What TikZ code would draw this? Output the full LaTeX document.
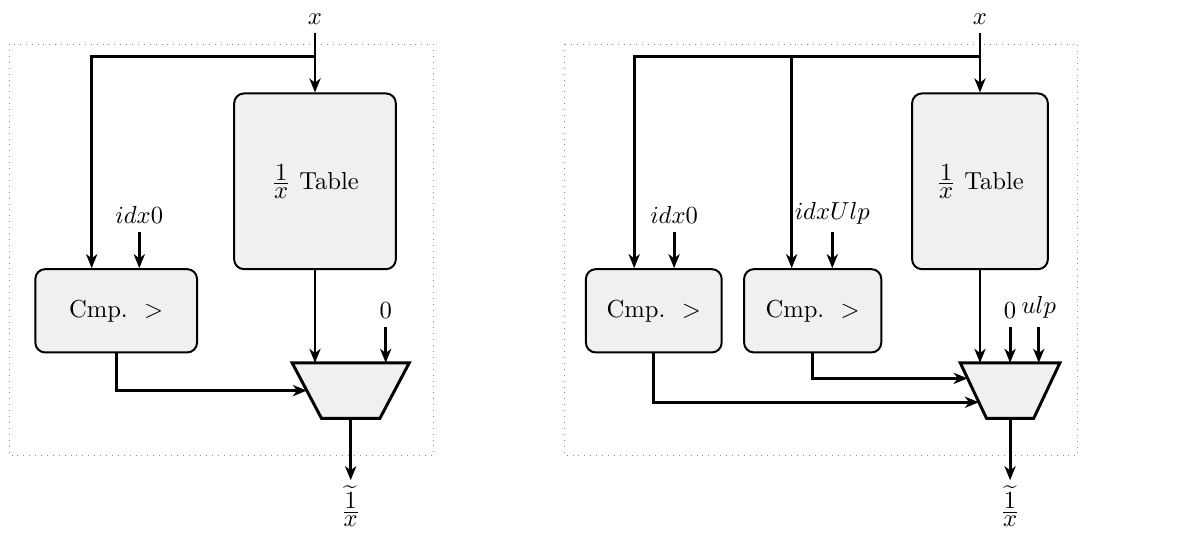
\documentclass[tikz,border=0pt]{standalone}
\usepackage{amsmath,amssymb}
\usepackage{tikz}
\usepackage{xcolor}
\usetikzlibrary{arrows.meta,positioning,calc}
\definecolor{ink}{HTML}{000000}
\definecolor{blockfill}{HTML}{F0F0F0}
\definecolor{framegray}{HTML}{8C8C8C}
\newcommand{\invx}{\frac{\textstyle 1}{\textstyle x}}
\tikzset{
  block/.style={draw=ink,fill=blockfill,line width=0.8pt,rounded corners=4pt,
                align=center,inner sep=3pt},
  muxbody/.style={draw=ink,fill=blockfill,line width=1.2pt,line join=miter},
  muxnode/.style={inner sep=0pt,minimum height=0.78cm},
  sig/.style={draw=ink,line width=1.2pt},
  sigarr/.style={sig,-{Stealth[length=2mm,width=1.6mm,inset=0.6mm]}},
  frame/.style={draw=framegray,line width=0.4pt,dotted},
  lbl/.style={inner sep=3.3pt}
}

\begin{document}
\begin{tikzpicture}[x=1cm,y=1cm]
    \path[use as bounding box] (0,0) rectangle (16.886,-7.657);
    \draw[frame] (0.14,-0.63) rectangle (6.19,-6.51);
    \draw[frame] (8.07,-0.63) rectangle (15.40,-6.51);

    % left unit
    \node[block,minimum width=2.31cm,minimum height=2.51cm] (tabA) at (4.50,-2.59)
      {$\invx$ Table};
    \node[block,minimum width=2.31cm,minimum height=1.19cm] (cmpA) at (1.66,-4.44)
      {Cmp.~~$>$};
    \node[muxnode,minimum width=1.66cm] (muxA) at (5.01,-5.58) {};
    \coordinate (muxA-bl) at ($(muxA.south west)+(0.42,0)$);
    \coordinate (muxA-br) at ($(muxA.south east)+(-0.42,0)$);
    \draw[muxbody] (muxA.north west) -- (muxA.north east) -- (muxA-br)
      -- (muxA-bl) -- cycle;
    \coordinate (muxA-s) at ($(muxA.north west)!0.5!(muxA-bl)$);
    \coordinate (cmpA-in1) at ($(cmpA.north)+(-0.35,0)$);
    \coordinate (cmpA-in2) at ($(cmpA.north)+(0.33,0)$);
    \coordinate (brA) at (4.50,-0.81);

    \node[lbl,anchor=south] (xA) at (4.50,-0.47) {$x$};
    \node[lbl,anchor=south] (idxA) at ($(cmpA-in2)+(0,0.51)$) {$idx0$};
    \node[lbl,anchor=south] (zeroA) at (5.51,-4.67) {$0$};
    \node[inner sep=2pt,anchor=north] (outA) at (5.01,-6.86)
      {$\widetilde{\invx}$};

    \draw[sigarr] (xA) -- (tabA);
    \draw[sigarr] (brA) -| (cmpA-in1);
    \draw[sigarr] (idxA) -- (cmpA-in2);
    \draw[sigarr] (tabA.south) -- (tabA.south |- muxA.north);
    \draw[sigarr] (zeroA) -- (zeroA |- muxA.north);
    \draw[sigarr] (cmpA.south) |- (muxA-s);
    \draw[sigarr] (muxA.south) -- (outA);

    % right unit
    \node[block,minimum width=1.94cm,minimum height=2.51cm] (tabB) at (14.00,-2.59)
      {$\invx$ Table};
    \node[block,minimum width=1.94cm,minimum height=1.19cm] (cmpB1) at (9.34,-4.44)
      {Cmp.~~$>$};
    \node[block,minimum width=1.96cm,minimum height=1.19cm] (cmpB2) at (11.61,-4.44)
      {Cmp.~~$>$};
    \node[muxnode,minimum width=1.41cm] (muxB) at (14.43,-5.58) {};
    \coordinate (muxB-bl) at ($(muxB.south west)+(0.375,0)$);
    \coordinate (muxB-br) at ($(muxB.south east)+(-0.375,0)$);
    \draw[muxbody] (muxB.north west) -- (muxB.north east) -- (muxB-br)
      -- (muxB-bl) -- cycle;
    \coordinate (muxB-s1) at ($(muxB.north west)!0.71!(muxB-bl)$);
    \coordinate (muxB-s2) at ($(muxB.north west)!0.28!(muxB-bl)$);
    \coordinate (cmpB1-in1) at ($(cmpB1.north)+(-0.28,0)$);
    \coordinate (cmpB1-in2) at ($(cmpB1.north)+(0.29,0)$);
    \coordinate (cmpB2-in1) at ($(cmpB2.north)+(-0.30,0)$);
    \coordinate (cmpB2-in2) at ($(cmpB2.north)+(0.28,0)$);
    \coordinate (brB) at (14.00,-0.81);

    \node[lbl,anchor=south] (xB) at (14.00,-0.47) {$x$};
    \node[lbl,anchor=south] (idxB1) at ($(cmpB1-in2)+(0,0.51)$) {$idx0$};
    \node[lbl,anchor=south] (idxB2) at ($(cmpB2-in2)+(0,0.51)$) {$idxUlp$};
    \node[lbl,anchor=south] (zeroB) at (14.43,-4.67) {$0$};
    \node[lbl,anchor=south] (ulpB) at (14.84,-4.67) {$ulp$};
    \node[inner sep=2pt,anchor=north] (outB) at (14.43,-6.86)
      {$\widetilde{\invx}$};

    \draw[sigarr] (xB) -- (tabB);
    \draw[sigarr] (brB) -| (cmpB1-in1);
    \draw[sigarr] (brB -| cmpB2-in1) -- (cmpB2-in1);
    \draw[sigarr] (idxB1) -- (cmpB1-in2);
    \draw[sigarr] (idxB2) -- (cmpB2-in2);
    \draw[sigarr] (tabB.south) -- (tabB.south |- muxB.north);
    \draw[sigarr] (zeroB) -- (zeroB |- muxB.north);
    \draw[sigarr] (ulpB) -- (ulpB |- muxB.north);
    \draw[sigarr] (cmpB2.south) |- (muxB-s2);
    \draw[sigarr] (cmpB1.south) |- (muxB-s1);
    \draw[sigarr] (muxB.south) -- (outB);
  \end{tikzpicture}
\end{document}
